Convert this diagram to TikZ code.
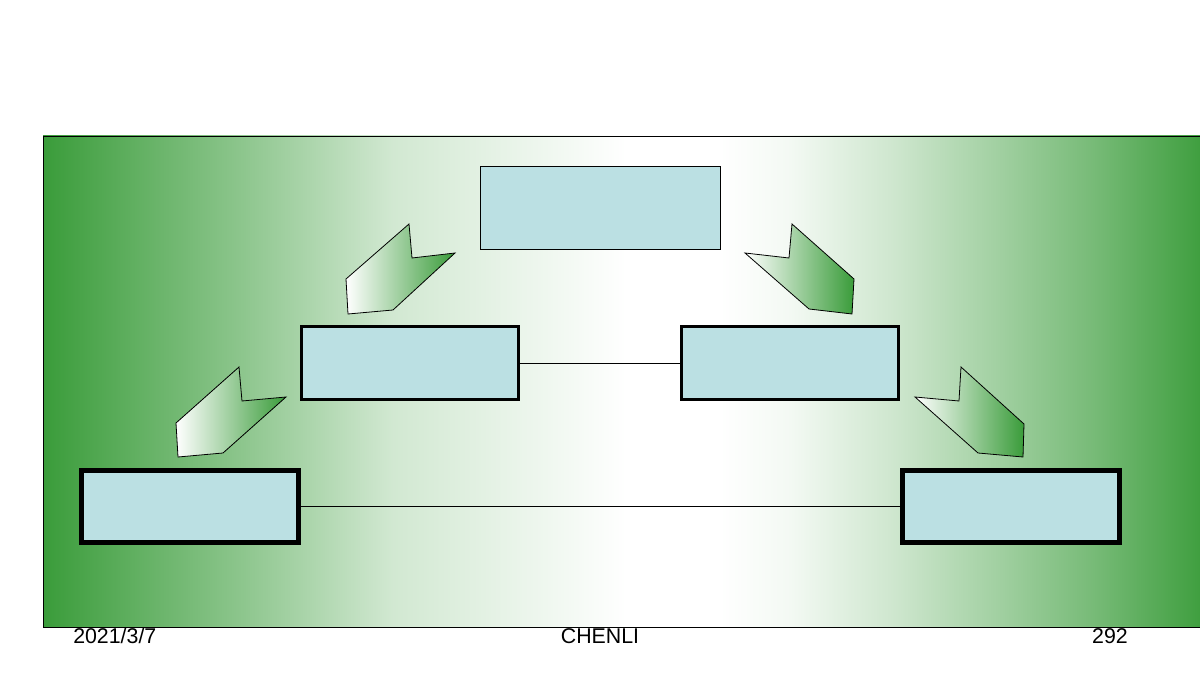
\documentclass[tikz,border=0pt]{standalone}
\usepackage{fontspec}
\setmainfont{Liberation Sans}
\definecolor{gr}{HTML}{3A9C3A}
\definecolor{boxblue}{HTML}{BBE0E3}
\pgfdeclarehorizontalshading{bgshade}{100bp}{%
  color(0bp)=(gr); color(25bp)=(gr); color(29bp)=(gr!80!white);
  color(33.5bp)=(gr!58!white); color(40bp)=(gr!23!white); color(47bp)=(gr!7!white);
  color(50bp)=(white); color(54bp)=(white); color(57bp)=(gr!6!white);
  color(61.5bp)=(gr!25!white); color(66bp)=(gr!48!white); color(70bp)=(gr!69!white);
  color(74.4bp)=(gr!96!white); color(75bp)=(gr); color(100bp)=(gr)}
\begin{document}
\begin{tikzpicture}[x=0.75pt,y=-0.75pt,
  bg/.style={draw=black,line width=0.6pt,shading=bgshade},
  box/.style={draw=black,fill=boxblue,inner sep=0pt,outer sep=0pt},
  thinbox/.style={box,line width=0.7pt},
  midbox/.style={box,line width=2.25pt,minimum width=162.75pt,minimum height=54.75pt},
  lowbox/.style={box,line width=3.75pt,minimum width=162.75pt,minimum height=54pt},
  chev/.style={draw=black,line width=0.6pt,left color=white,right color=gr,line join=miter},
  link/.style={draw=black,line width=0.6pt},
  foot/.style={font=\fontsize{16pt}{19pt}\selectfont,inner sep=0pt}]
\useasboundingbox (0,0) rectangle (1200,680);
\fill[white] (0,0) rectangle (1200,680);
\path[bg] (43,136) rectangle (1210,627);
% boxes
\node[thinbox,minimum width=180pt,minimum height=62.25pt] (top) at (600,207.5) {};
\node[midbox] (ml) at (410,363) {};
\node[midbox] (mr) at (790,363) {};
\node[lowbox] (bl) at (190,506.5) {};
\node[lowbox] (br) at (1010.5,506.5) {};
% connectors
\draw[link] (ml.east) -- (mr.west);
\draw[link] (bl.east) -- (br.west);
% chevron arrows
\path[chev] (409,224) -- (412,258) -- (455,253) -- (393,310) -- (348,314) -- (346,279) -- cycle;
\path[chev] (792,224) -- (789,258) -- (745,253) -- (809,309) -- (852,314) -- (854,279) -- cycle;
\path[chev] (239,367) -- (242,401) -- (286,397) -- (223,453) -- (178,457) -- (176,423) -- cycle;
\path[chev] (961,367) -- (959,401) -- (915,397) -- (978,453) -- (1023,457) -- (1024,424) -- cycle;
% footer
\node[foot,anchor=base west] (date) at (73,643) {2021/3/7};
\node[foot,anchor=base] (author) at (600,643) {CHENLI};
\node[foot,anchor=base east] (page) at (1128,643) {292};
\end{tikzpicture}
\end{document}
